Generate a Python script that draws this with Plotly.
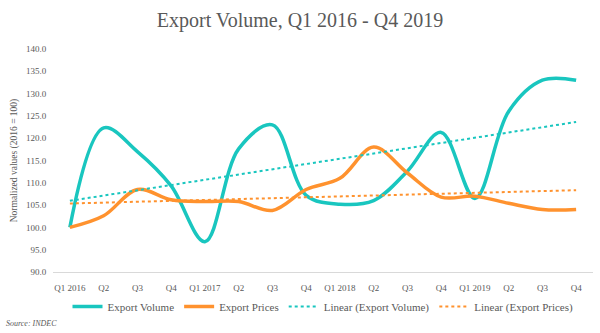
import numpy as np
import plotly.graph_objects as go

quarters = ["Q1 2016", "Q2", "Q3", "Q4", "Q1 2017", "Q2", "Q3", "Q4",
            "Q1 2018", "Q2", "Q3", "Q4", "Q1 2019", "Q2", "Q3", "Q4"]
export_volume = [100.0, 122.3, 117.0, 109.3, 96.8, 117.6, 123.0, 107.2,
                 105.2, 106.0, 112.6, 121.3, 106.5, 126.0, 133.0, 133.0]
export_prices = [100.0, 102.6, 108.5, 106.2, 105.8, 105.8, 103.8, 108.5,
                 111.0, 118.0, 112.2, 106.8, 107.0, 105.4, 104.0, 104.0]

teal = "#19C6BF"
orange = "#FF922E"
font_family = "Liberation Serif"

x = np.arange(len(quarters))
tv = np.polyval(np.polyfit(x, export_volume, 1), x)
tp = np.polyval(np.polyfit(x, export_prices, 1), x)

fig = go.Figure()
fig.add_trace(go.Scatter(x=x, y=export_volume, name="Export Volume", mode="lines",
                         line=dict(color=teal, width=3.5, shape="spline", smoothing=1.0)))
fig.add_trace(go.Scatter(x=x, y=export_prices, name="Export Prices", mode="lines",
                         line=dict(color=orange, width=3.5, shape="spline", smoothing=1.0)))
fig.add_trace(go.Scatter(x=x, y=tv, name="Linear (Export Volume)", mode="lines",
                         line=dict(color=teal, width=2, dash="dot")))
fig.add_trace(go.Scatter(x=x, y=tp, name="Linear (Export Prices)", mode="lines",
                         line=dict(color=orange, width=2, dash="dot")))

fig.update_layout(
    width=600, height=333,
    margin=dict(l=53, r=7, t=49, b=61, autoexpand=False),
    paper_bgcolor="white", plot_bgcolor="white",
    font=dict(family=font_family, color="#595959", size=9),
    title=dict(text="Export Volume, Q1 2016 - Q4 2019", x=0.5, xanchor="center",
               y=0.94, yanchor="middle",
               font=dict(family=font_family, size=20, color="#595959")),
    showlegend=True,
    legend=dict(orientation="h", x=0.5, xanchor="center", y=-0.09, yanchor="top",
                font=dict(size=11, color="#595959"), itemwidth=30,
                tracegroupgap=0),
    xaxis=dict(tickmode="array", tickvals=list(x), ticktext=quarters,
               range=[-0.5, len(quarters) - 0.5], showgrid=False,
               showline=True, linecolor="#D9D9D9", linewidth=1,
               ticks="outside", ticklen=7, tickcolor="rgba(0,0,0,0)",
               zeroline=False, tickfont=dict(size=9)),
    yaxis=dict(range=[90, 140], dtick=5, tickformat=".1f", showgrid=False,
               zeroline=False, showline=False,
               ticks="outside", ticklen=4, tickcolor="rgba(0,0,0,0)",
               tickfont=dict(size=9),
               title=dict(text="Normalized values (2016 = 100)",
                          font=dict(size=9.5, color="#595959"), standoff=6)),
    annotations=[dict(text="<i>Source: INDEC</i>", xref="paper", yref="paper",
                      x=-0.09, y=-0.23, xanchor="left", yanchor="middle",
                      showarrow=False, font=dict(size=8, color="#595959"))],
)

fig.write_html("out.html")
